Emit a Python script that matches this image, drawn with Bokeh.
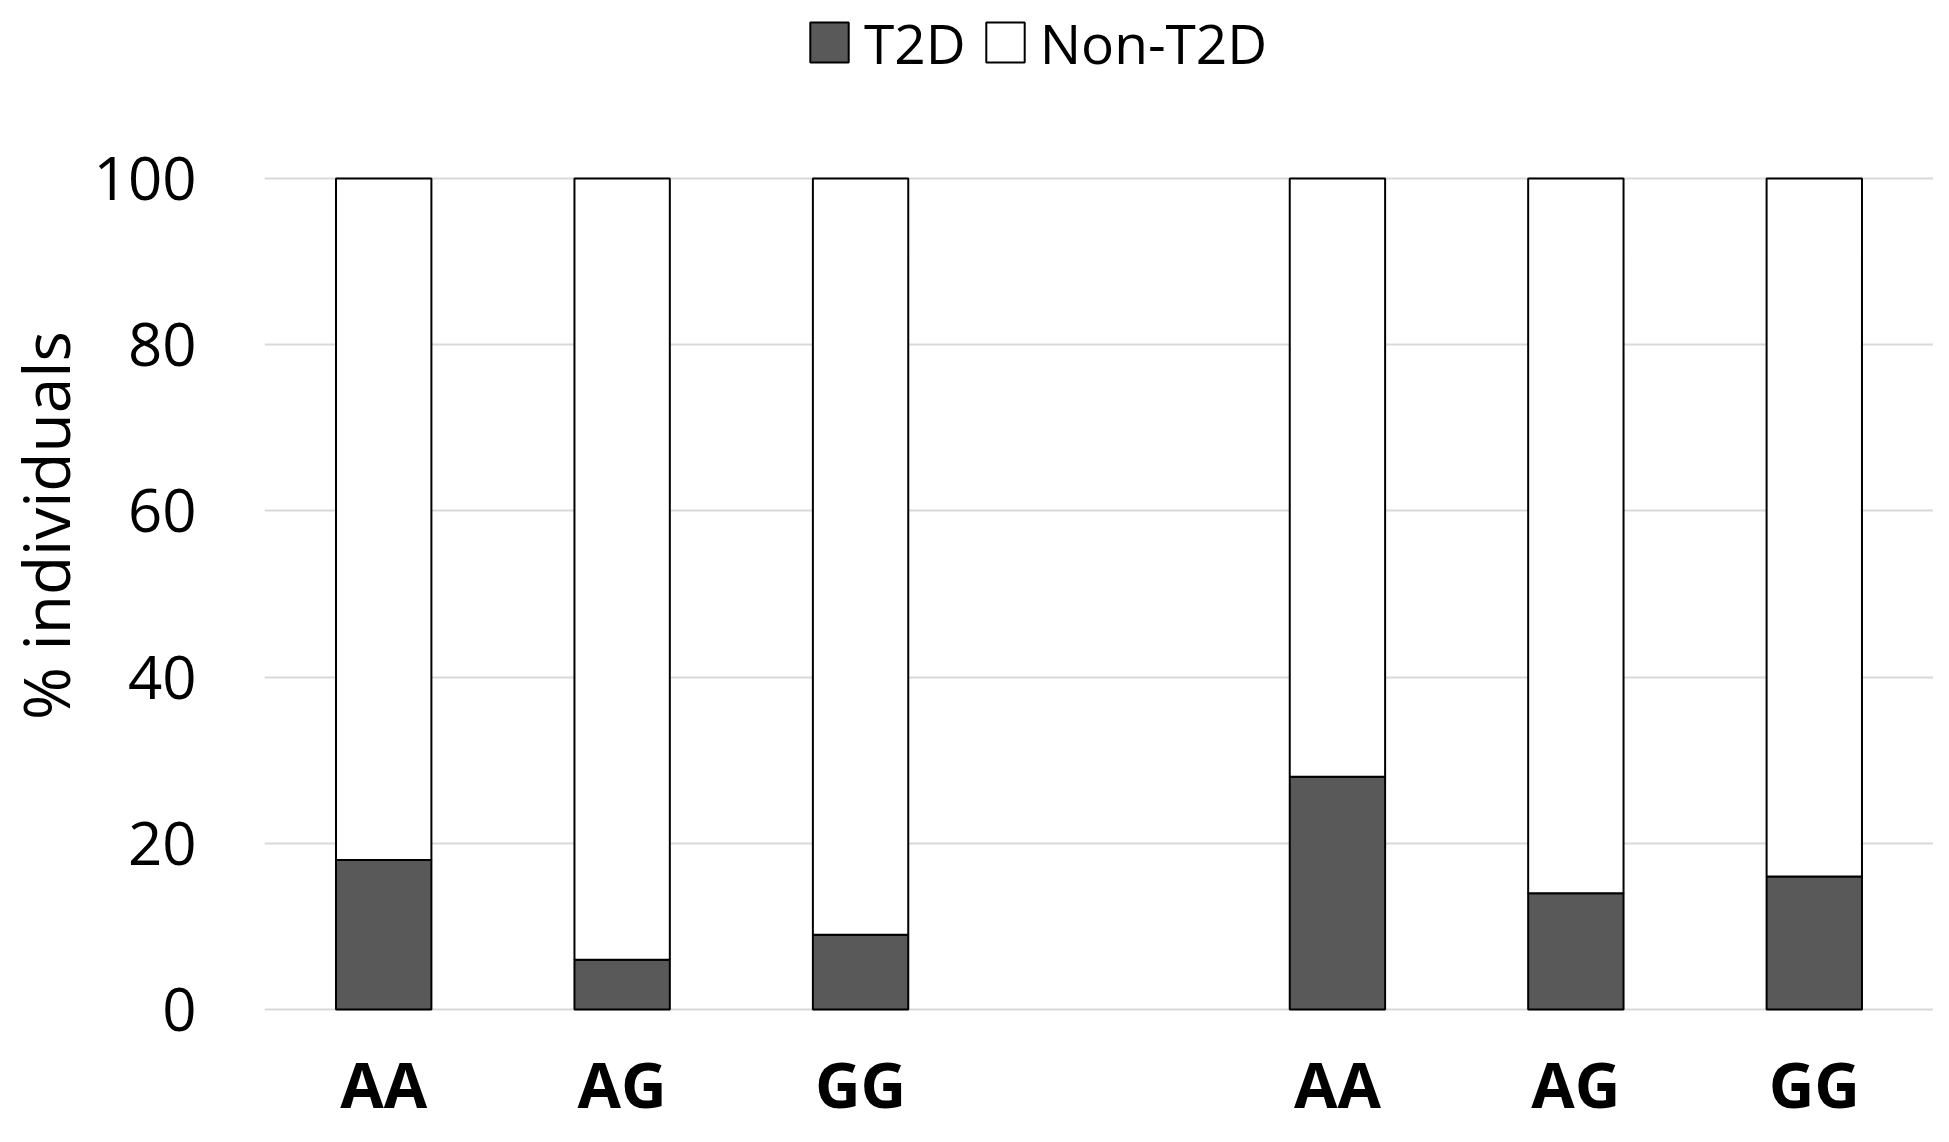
import math
from bokeh.plotting import figure
from bokeh.layouts import row
from bokeh.models import (Range1d, FixedTicker, ColumnDataSource, Legend, LegendItem,
                          Label, Plot)
from bokeh.core.properties import value
from bokeh.embed import file_html
from bokeh.resources import INLINE

# ---- data ----
genotypes = ["AA", "AG", "GG", "AA", "AG", "GG"]
group_of = [0, 0, 0, 1, 1, 1]          # which of the two cohorts each bar belongs to
t2d = [18, 6, 9, 28, 14, 16]
non_t2d = [82, 94, 91, 72, 86, 84]
series_names = ["T2D", "Non-T2D"]
series_colors = ["#595959", "#ffffff"]
y_ticks = [0, 20, 40, 60, 80, 100]
y_title = "% individuals"

FONT = "Open Sans"
H = 1126
W = 1933
TITLE_W = 90
FRAME_LEFT = 264
ZERO_PX = 1009    # pixel row of the 0 line
TOP_PX = 178      # pixel row of the 100 line
k = 100 / (ZERO_PX - TOP_PX)          # data units per pixel
y_start = -(H - ZERO_PX) * k
y_end = 100 + TOP_PX * k
label_y = -(1083 - ZERO_PX) * k        # vertical centre of the category labels

# one empty slot between the two cohorts
xpos = [i + g for i, g in enumerate(group_of)]
source = ColumnDataSource(dict(x=xpos, t2d=t2d, non=non_t2d, label=genotypes))

# ---- y-axis title strip ----
t = Plot(width=TITLE_W, height=H, x_range=Range1d(0, TITLE_W), y_range=Range1d(0, H),
         title=None, toolbar_location=None, output_backend="svg",
         min_border_left=0, min_border_right=0, min_border_top=0, min_border_bottom=0,
         outline_line_color=None)
t.add_layout(Label(x=45, y=H - 525, text=y_title, angle=math.pi / 2,
                   text_align="center", text_baseline="middle",
                   text_font=FONT, text_font_size="64px", text_color="black"))

# ---- main chart ----
p = figure(
    width=W - TITLE_W, height=H,
    x_range=Range1d(-0.5, max(xpos) + 0.5),
    y_range=Range1d(y_start, y_end),
    x_axis_location=None,
    output_backend="svg", toolbar_location=None,
    min_border_left=FRAME_LEFT - TITLE_W, min_border_right=0, min_border_top=0, min_border_bottom=0,
)
p.outline_line_color = None
p.background_fill_color = "white"

rs = p.vbar_stack(["t2d", "non"], x="x", width=0.4, source=source,
                  fill_color=series_colors, line_color="black", line_width=2)

# category labels under the bars
p.text(x="x", y=label_y, text="label", source=source,
       text_font=value(FONT), text_font_style="bold", text_font_size="63px",
       text_color="black", text_align="center", text_baseline="middle")

# grid
p.xgrid.grid_line_color = None
p.ygrid.grid_line_color = "#d9d9d9"
p.ygrid.grid_line_width = 2

# y axis
p.yaxis.ticker = FixedTicker(ticks=y_ticks)
p.yaxis.axis_line_color = None
p.yaxis.major_tick_line_color = None
p.yaxis.minor_tick_line_color = None
p.yaxis.major_label_text_font = FONT
p.yaxis.major_label_text_font_size = "60px"
p.yaxis.major_label_text_color = "black"
p.yaxis.major_label_standoff = 62

# legend (inside the frame, above the 100 line)
items = [LegendItem(label=n, renderers=[r]) for n, r in zip(series_names, rs)]
lg = Legend(items=items, location=(541, H - 82), orientation="horizontal")
lg.label_text_font = FONT
lg.label_text_font_size = "55px"
lg.label_text_color = "black"
lg.glyph_width = 48
lg.glyph_height = 50
lg.label_height = 80
lg.label_standoff = 11
lg.spacing = 15
lg.padding = 0
lg.margin = 0
lg.border_line_color = None
lg.background_fill_alpha = 0
p.add_layout(lg, "center")

layout = row(t, p, spacing=0)
open("out.html", "w").write(file_html(layout, INLINE))
